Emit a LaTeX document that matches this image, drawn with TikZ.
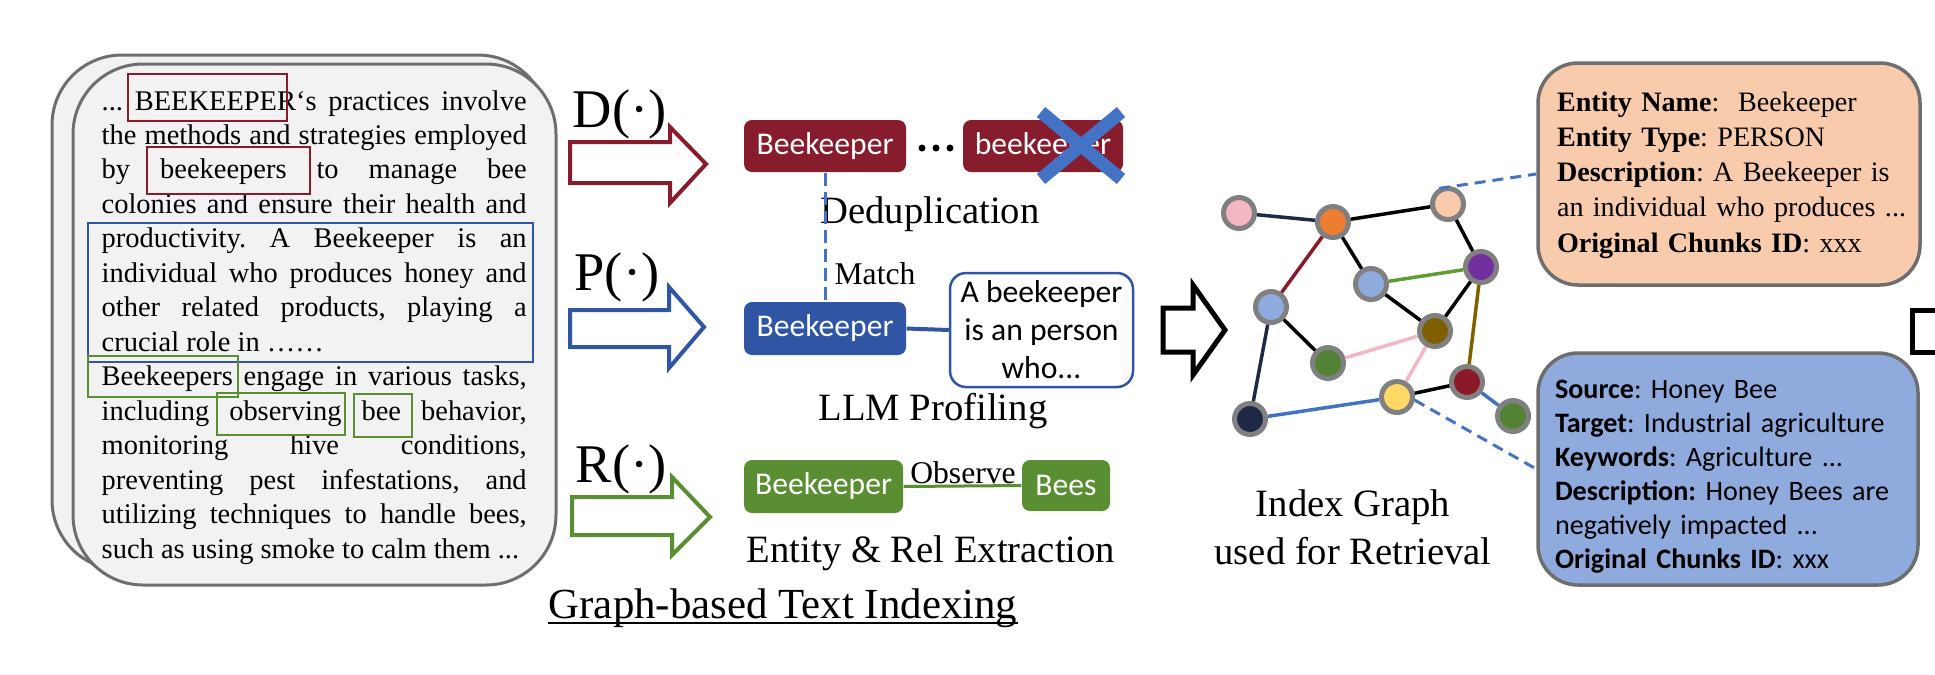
\documentclass[tikz,border=0pt]{standalone}
\usepackage{fontspec}
\setmainfont{Liberation Serif}
\newfontfamily\calib{Carlito}
\usetikzlibrary{calc}
\frenchspacing
\definecolor{dred}{HTML}{861C2C}
\definecolor{dblue}{HTML}{2F55A4}
\definecolor{xblue}{HTML}{4472C4}
\definecolor{dgreen}{HTML}{5A8E33}
\definecolor{cardfill}{HTML}{F2F2F2}
\definecolor{cardline}{HTML}{6E6E6E}
\definecolor{ngray}{HTML}{808080}
\definecolor{cpink}{HTML}{F4B6C2}
\definecolor{corange}{HTML}{ED7D31}
\definecolor{cpeach}{HTML}{F8CBAD}
\definecolor{cpurple}{HTML}{7030A0}
\definecolor{clblue}{HTML}{8FAADC}
\definecolor{colive}{HTML}{7F6000}
\definecolor{cgreen}{HTML}{548235}
\definecolor{cdred}{HTML}{8B1A29}
\definecolor{cyellow}{HTML}{FFD966}
\definecolor{cnavy}{HTML}{1F2844}
\definecolor{egreen}{HTML}{5E9E34}
\begin{document}
\begin{tikzpicture}[x=0.1mm,y=-0.1mm,
  txt/.style={inner sep=0, anchor=base west, font=\fontsize{8.1}{9.8}\selectfont},
  capt/.style={inner sep=0, anchor=base, font=\fontsize{11}{13}\selectfont},
  fn/.style={inner sep=0, anchor=base west, font=\fontsize{15.5}{18}\selectfont},
  ent/.style={rounded corners=0.8mm, inner sep=0, text=white, font=\calib\fontsize{9}{11}\selectfont, minimum height=5.2mm},
  gnode/.style={circle, draw=ngray, line width=0.5mm, minimum size=3.1mm, inner sep=0},
  card/.style={rounded corners=7mm, fill=cardfill, draw=cardline, line width=0.3mm},
  hl/.style={line width=0.25mm},
  barrow/.style={line width=0.4mm, fill=white, line join=miter},
  gedge/.style={line width=0.35mm},
  info/.style={rounded corners=4mm, draw=cardline, line width=0.35mm, align=left, inner ysep=0},
  dsh/.style={xblue, line width=0.3mm, dash pattern=on 1.1mm off 0.7mm}
]
\useasboundingbox (0,0) rectangle (1935,674);

% ---------- document cards ----------
\node[card, minimum width=49.6mm, minimum height=51.5mm] (back) at (300,312.5) {};
\node[card, minimum width=48.3mm, minimum height=52.1mm] (front) at (314.5,324.5) {};

\node[txt] (t1) at (101,110) {\makebox[42.5mm][s]{... BEEKEEPER‘s practices involve}};
\node[txt] (t2) at (101,144.5) {\makebox[42.5mm][s]{the methods and strategies employed}};
\node[txt] (t3) at (101,178.9) {\makebox[42.5mm][s]{by beekeepers to manage bee}};
\node[txt] (t4) at (101,213.4) {\makebox[42.5mm][s]{colonies and ensure their health and}};
\node[txt] (t5) at (101,247.8) {\makebox[42.5mm][s]{productivity. A Beekeeper is an}};
\node[txt] (t6) at (101,282.3) {\makebox[42.5mm][s]{individual who produces honey and}};
\node[txt] (t7) at (101,316.8) {\makebox[42.5mm][s]{other related products, playing a}};
\node[txt] (t8) at (101,351.2) {crucial role in ……};
\node[txt] (t9) at (101,385.7) {\makebox[42.5mm][s]{Beekeepers engage in various tasks,}};
\node[txt] (t10) at (101,420.1) {\makebox[42.5mm][s]{including observing bee behavior,}};
\node[txt] (t11) at (101,454.6) {\makebox[42.5mm][s]{monitoring hive conditions,}};
\node[txt] (t12) at (101,489.1) {\makebox[42.5mm][s]{preventing pest infestations, and}};
\node[txt] (t13) at (101,523.5) {\makebox[42.5mm][s]{utilizing techniques to handle bees,}};
\node[txt] (t14) at (101,558) {such as using smoke to calm them ...};

% highlight boxes
\draw[hl, dred] (128,74) rectangle (287,121);
\draw[hl, dred] (147,147) rectangle (310,194);
\draw[hl, dblue] (88,223) rectangle (533,362);
\draw[hl, dgreen] (88,356) rectangle (238,397);
\draw[hl, dgreen] (217,393) rectangle (345,435);
\draw[hl, dgreen] (354,394) rectangle (412,437);

% ---------- block arrows ----------
\draw[barrow, draw=dred] (570,142) -- (670,142) -- (670,127) -- (706,164) -- (670,203) -- (670,183) -- (570,183) -- cycle;
\draw[barrow, draw=dblue] (570,310) -- (669,310) -- (669,287) -- (704,327) -- (669,368) -- (669,347) -- (570,347) -- cycle;
\draw[barrow, draw=dgreen] (572,497) -- (672,497) -- (672,477) -- (710,517) -- (672,555) -- (672,535) -- (572,535) -- cycle;
\node[fn] (fD) at (572,127) {D(·)};
\node[fn] (fP) at (574,290) {P(·)};
\node[fn] (fR) at (575,482) {R(·)};

% ---------- deduplication ----------
\node[ent, fill=dred, minimum width=16.2mm] (redA) at (825,146) {Beekeeper};
\fill (922,148) circle (3.5) (936,148) circle (3.5) (950,148) circle (3.5);
\node[ent, fill=dred, minimum width=16mm] (redB) at (1043,146) {beekeeper};
\draw[xblue, line width=1.3mm] (1041,112) -- (1121,179) (1121,112) -- (1041,179);
\node[capt] (dedup) at (930,223) {Deduplication};

% ---------- profiling ----------
\node[ent, fill=dblue, minimum width=16.2mm, minimum height=5.3mm] (blueA) at (825,328.5) {Beekeeper};
\draw[xblue, line width=0.3mm, dash pattern=on 1.3mm off 0.6mm] (redA.south) -- (blueA.north);
\node[inner sep=0, anchor=base, font=\fontsize{9}{11}\selectfont] (match) at (875,284) {Match};
\node[draw=dblue, line width=0.25mm, rounded corners=1.6mm, minimum width=18.3mm, minimum height=11.4mm, inner sep=0, align=center, font=\calib\fontsize{9}{10.8}\selectfont] (bubble) at (1041.5,330) {A beekeeper\\is an person\\who...};
\draw[dblue, line width=0.4mm] (blueA.east) -- (bubble.west);
\node[capt] (llm) at (933,420) {LLM Profiling};

% ---------- extraction ----------
\node[ent, fill=dgreen, minimum width=15.9mm, minimum height=5.3mm] (greenA) at (823.5,486.5) {Beekeeper};
\node[ent, fill=dgreen, minimum width=8.8mm, minimum height=5.1mm] (bees) at (1066,485.5) {Bees};
\draw[dgreen, line width=0.3mm] (greenA.east) -- (bees.west);
\node[inner sep=0, anchor=base, font=\fontsize{9}{11}\selectfont] (obs) at (963,483) {Observe};
\node[capt] (ere) at (931,562) {Entity \& Rel Extraction};

\node[inner sep=0, anchor=base, font=\fontsize{12.2}{14}\selectfont] (gbti) at (783,618) {Graph-based Text Indexing};
\draw[line width=0.2mm] ([yshift=-0.45mm]gbti.base west) -- ([yshift=-0.45mm]gbti.base east);

% ---------- big arrow ----------
\draw[line width=0.5mm, fill=white, line join=miter] (1163,308) -- (1193,308) -- (1193,285) -- (1225,330) -- (1193,375) -- (1193,352) -- (1163,352) -- cycle;
\draw[line width=0.5mm, line join=miter] (1940,310) -- (1912,310) -- (1912,352) -- (1940,352);

% ---------- graph ----------
\node[gnode, fill=cpink] (npink) at (1239,213) {};
\node[gnode, fill=corange] (norange) at (1333,222) {};
\node[gnode, fill=cpeach] (npeach) at (1448,204) {};
\node[gnode, fill=cpurple] (npurple) at (1481,267) {};
\node[gnode, fill=clblue] (nlbm) at (1371,284) {};
\node[gnode, fill=clblue] (nlbl) at (1271,307) {};
\node[gnode, fill=colive] (nolive) at (1435,331) {};
\node[gnode, fill=cgreen] (ngm) at (1328,363) {};
\node[gnode, fill=cdred] (ndred) at (1467,382) {};
\node[gnode, fill=cyellow] (nyellow) at (1397,397) {};
\node[gnode, fill=cnavy] (nnavy) at (1250,419) {};
\node[gnode, fill=cgreen] (ngr) at (1513,416) {};

\draw[gedge, cnavy] (npink) -- (norange);
\draw[gedge, black] (norange) -- (npeach);
\draw[gedge, cdred] (norange) -- (nlbl);
\draw[gedge, black] (norange) -- (nlbm);
\draw[gedge, black] (npeach) -- (npurple);
\draw[gedge, egreen] (nlbm) -- (npurple);
\draw[gedge, black] (nlbm) -- (nolive);
\draw[gedge, black] (npurple) -- (nolive);
\draw[gedge, colive] (npurple) -- (ndred);
\draw[gedge, black] (nlbl) -- (ngm);
\draw[gedge, cnavy] (nlbl) -- (nnavy);
\draw[gedge, cpink] (ngm) -- (nolive);
\draw[gedge, cpink] (nolive) -- (nyellow);
\draw[gedge, black] (nyellow) -- (ndred);
\draw[gedge, xblue] (nnavy) -- (nyellow);
\draw[gedge, xblue] (ndred) -- (ngr);

\node[capt, anchor=north, align=center, font=\fontsize{11}{13.7}\selectfont] (igl) at (1353,489) {Index Graph\\used for Retrieval};

% ---------- info boxes ----------
\node[info, fill=cpeach, minimum width=38.2mm, minimum height=22.2mm, inner xsep=1.9mm, text width=34.4mm, font=\fontsize{8}{10}\selectfont] (box1) at (1729,174)
  {\mbox{\rule{0pt}{6.2pt}\textbf{Entity Name}:\ \ Beekeeper}\\\mbox{\textbf{Entity Type}: PERSON}\\\mbox{\textbf{Description}: A Beekeeper is}\\\mbox{an individual who produces ...}\\\mbox{\textbf{Original Chunks ID}: xxx}};
\node[info, fill=clblue, minimum width=38mm, minimum height=23.2mm, inner xsep=1.7mm, text width=34.6mm, font=\calib\fontsize{8}{9.7}\selectfont] (box2) at (1728,469)
  {\mbox{\rule{0pt}{9.7pt}\textbf{Source}: Honey Bee}\\\mbox{\textbf{Target}: Industrial agriculture}\\\mbox{\textbf{Keywords}: Agriculture ...}\\\mbox{\textbf{Description:} Honey Bees are}\\\mbox{negatively impacted ...}\\\mbox{\textbf{Original Chunks ID}: xxx}};

\draw[dsh] (npeach.120) -- (box1.west);
\draw[dsh] (nyellow.-10) -- (box2.west);
\end{tikzpicture}
\end{document}
